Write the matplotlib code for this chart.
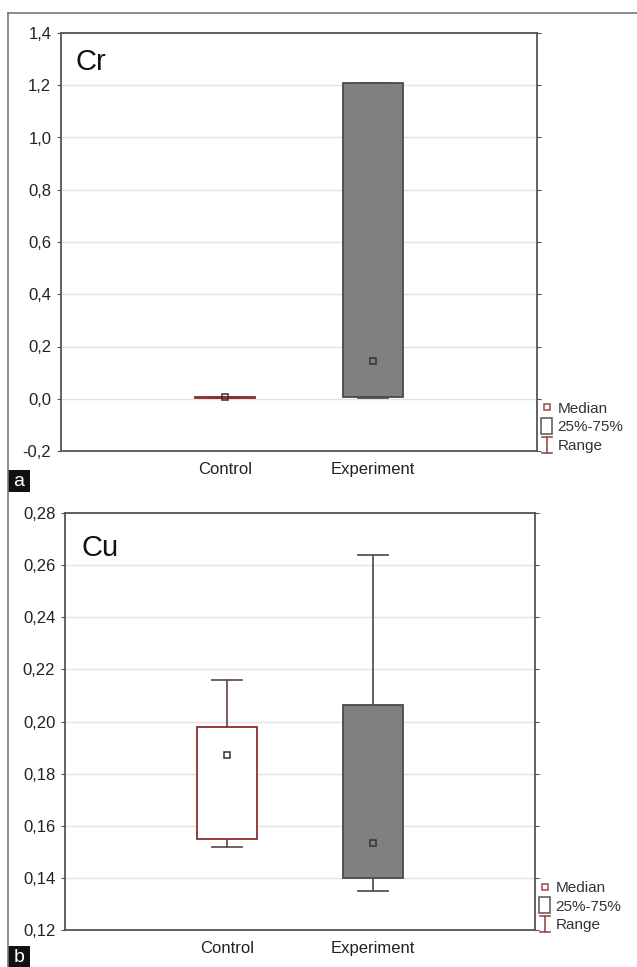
import matplotlib
matplotlib.use("Agg")
import matplotlib.pyplot as plt
from matplotlib.lines import Line2D
from matplotlib.patches import Rectangle, Patch
from matplotlib.legend_handler import HandlerBase
from matplotlib.ticker import FuncFormatter, MultipleLocator

plt.rcParams['font.family'] = ['Liberation Sans', 'DejaVu Sans']

# ---- data ----
categories = ['Control', 'Experiment']
cr_min = [0.004, 0.002]
cr_q1 = [0.004, 0.008]
cr_med = [0.005, 0.144]
cr_q3 = [0.006, 1.207]
cr_max = [0.006, 1.207]

cu_min = [0.152, 0.135]
cu_q1 = [0.155, 0.140]
cu_med = [0.187, 0.1535]
cu_q3 = [0.198, 0.2065]
cu_max = [0.216, 0.264]

legend_labels = ['Median', '25%-75%', 'Range']

# ---- style ----
W, H = 637, 967
fig = plt.figure(figsize=(W / 100, H / 100), dpi=100)

face_cols = ['white', '#808080']
edge_cols = ['#8b2e2e', '#4a4a4a']
whisk_cols = ['#6a5050', '#555555']
legend_red = '#a04848'
spine_col = '#555555'
positions = [1, 2]


class RangeHandler(HandlerBase):
    def create_artists(self, legend, orig_handle, xdescent, ydescent,
                       width, height, fontsize, trans):
        cx = width / 2 - xdescent
        y0 = -ydescent - 0.25 * height
        y1 = height - ydescent + 0.2 * height
        hw = width * 0.35
        arts = [Line2D([cx, cx], [y0, y1]),
                Line2D([cx - hw, cx + hw], [y0, y0]),
                Line2D([cx - hw, cx + hw], [y1, y1])]
        for a in arts:
            a.set_color(legend_red)
            a.set_linewidth(1.2)
            a.set_transform(trans)
        return arts


class BoxHandler(HandlerBase):
    def create_artists(self, legend, orig_handle, xdescent, ydescent,
                       width, height, fontsize, trans):
        w = width * 0.8
        h = height * 1.45
        r = Rectangle((-xdescent + (width - w) / 2, -ydescent - 0.22 * height), w, h,
                      facecolor='white', edgecolor='#555555', linewidth=1.1,
                      transform=trans)
        return [r]


def make_panel(rect, mins, q1s, meds, q3s, maxs, ylim, step, fmt, title, title_xy):
    ax = fig.add_axes(rect)
    stats = []
    for i in range(len(categories)):
        stats.append(dict(label=categories[i], med=meds[i], q1=q1s[i], q3=q3s[i],
                          whislo=mins[i], whishi=maxs[i], fliers=[]))
    bp = ax.bxp(stats, positions=positions, widths=0.41, patch_artist=True,
                showfliers=False, medianprops=dict(linewidth=0),
                manage_ticks=False)
    for i, b in enumerate(bp['boxes']):
        b.set_facecolor(face_cols[i])
        b.set_edgecolor(edge_cols[i])
        b.set_linewidth(1.3)
        b.set_zorder(3)
    for i in range(len(categories)):
        for j in (2 * i, 2 * i + 1):
            bp['whiskers'][j].set_color(whisk_cols[i])
            bp['whiskers'][j].set_linewidth(1.3)
            bp['caps'][j].set_color(whisk_cols[i])
            bp['caps'][j].set_linewidth(1.3)
    for i in range(len(categories)):
        ax.plot(positions[i], meds[i], marker='s', ms=4.5, mfc='none',
                mec='#333333', mew=1.1, ls='none', zorder=5)

    ax.set_xlim(-0.113, 3.113)
    ax.set_ylim(*ylim)
    ax.yaxis.set_major_locator(MultipleLocator(step))
    ax.yaxis.set_major_formatter(FuncFormatter(
        lambda v, p: (fmt % v).replace('.', ',').replace('-0,00', '0,00')))
    ax.set_xticks(positions)
    ax.set_xticklabels(categories)
    ax.grid(axis='y', color='#e2e2e2', linewidth=1.0, zorder=0)
    ax.set_axisbelow(True)
    ax.tick_params(axis='y', left=True, right=True, direction='out', length=3,
                   color=spine_col, labelsize=12, labelcolor='#222222', pad=4)
    ax.tick_params(axis='x', length=0, labelsize=12, labelcolor='#222222', pad=8)
    for s in ax.spines.values():
        s.set_color(spine_col)
        s.set_linewidth(1.3)
    ax.text(title_xy[0], title_xy[1], title, transform=ax.transAxes,
            fontsize=21, va='center', ha='left', color='#111111')

    handles = [Line2D([], [], marker='s', ls='none', mfc='white', mec=legend_red,
                      mew=1.1, ms=4.5),
               Patch(facecolor='white', edgecolor='#555555'),
               Line2D([], [], color=legend_red)]
    rng = handles[2]
    box = handles[1]
    leg = ax.legend(handles, legend_labels, loc='upper left',
                    bbox_to_anchor=(1.0, 0.125), frameon=False, fontsize=11,
                    handlelength=0.9, handletextpad=0.25, labelspacing=0.3,
                    borderpad=0, borderaxespad=0.2,
                    handler_map={rng: RangeHandler(), box: BoxHandler()})
    for t in leg.get_texts():
        t.set_color('#333333')
    return ax


# panel a
make_panel([61 / W, 1 - 451 / H, (537 - 61) / W, (451 - 33) / H],
           cr_min, cr_q1, cr_med, cr_q3, cr_max, (-0.2, 1.4), 0.2, '%.1f',
           'Cr', (0.03, 0.93))
# panel b
make_panel([65 / W, 1 - 930 / H, (535 - 65) / W, (930 - 513) / H],
           cu_min, cu_q1, cu_med, cu_q3, cu_max, (0.12, 0.28), 0.02, '%.2f',
           'Cu', (0.036, 0.916))

# outer frame lines
fig.add_artist(Line2D([8 / W, 8 / W], [0, 1 - 13 / H], color='#777777', lw=1.2,
                      transform=fig.transFigure))
fig.add_artist(Line2D([8 / W, 1], [1 - 13 / H, 1 - 13 / H], color='#777777', lw=1.2,
                      transform=fig.transFigure))

# panel labels
for lab, ytop in (('a', 470), ('b', 946)):
    fig.add_artist(Rectangle((8 / W, 1 - (ytop + 22) / H), 22 / W, 22 / H,
                             facecolor='#111111', edgecolor='none',
                             transform=fig.transFigure))
    fig.text(19 / W, 1 - (ytop + 11) / H, lab, color='white', fontsize=14,
             ha='center', va='center')

fig.savefig('out.png', dpi=100)
